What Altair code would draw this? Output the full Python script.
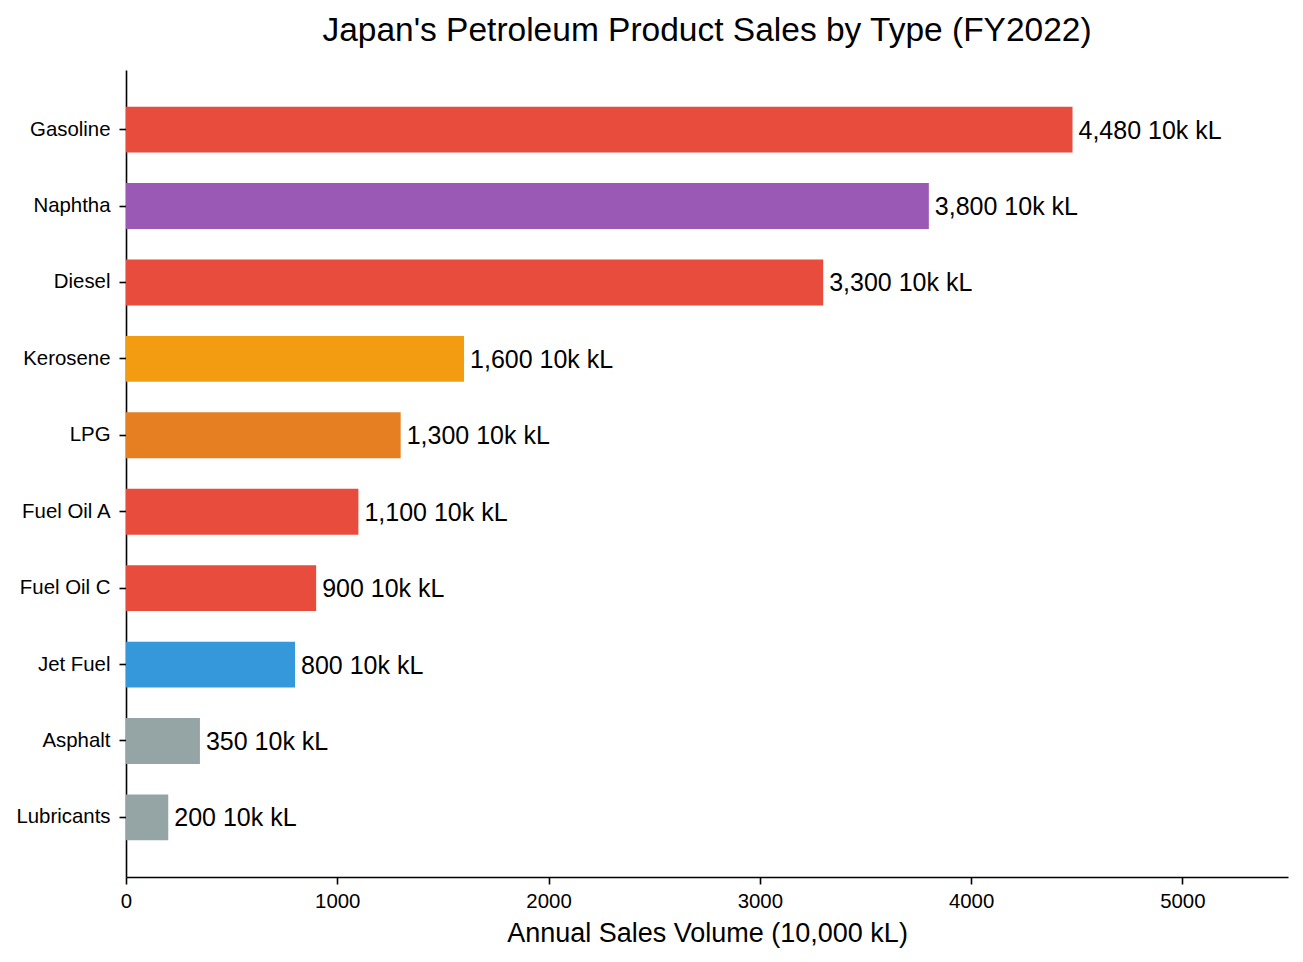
import pandas as pd
import altair as alt

# FY2022 petroleum product sales, in 10,000 kL
products = ["Gasoline", "Naphtha", "Diesel", "Kerosene", "LPG",
            "Fuel Oil A", "Fuel Oil C", "Jet Fuel", "Asphalt", "Lubricants"]
volumes = [4480, 3800, 3300, 1600, 1300, 1100, 900, 800, 350, 200]
bar_colors = ["#e74c3c", "#9b59b6", "#e74c3c", "#f39c12", "#e67e22",
              "#e74c3c", "#e74c3c", "#3498db", "#95a5a6", "#95a5a6"]
x_ticks = [0, 1000, 2000, 3000, 4000, 5000]

font = "Liberation Sans"

source = pd.DataFrame({"product": products, "volume": volumes, "color": bar_colors})

y = alt.Y(
    "product:N",
    sort=products,
    title=None,
    scale=alt.Scale(paddingInner=0.4, paddingOuter=0.48),
    axis=alt.Axis(
        labelFontSize=20.4, labelColor="black", labelPadding=9,
        tickSize=7, tickWidth=1.6, tickColor="black",
        domainColor="black", domainWidth=1.6,
    ),
)

x = alt.X(
    "volume:Q",
    title="Annual Sales Volume (10,000 kL)",
    scale=alt.Scale(domain=[0, 5500], nice=False),
    axis=alt.Axis(
        values=x_ticks, format="d", grid=False, labelFlush=False,
        labelFontSize=20.4, labelColor="black", labelPadding=7,
        tickSize=7, tickWidth=1.6, tickColor="black",
        domainColor="black", domainWidth=1.6,
        titleFontSize=27, titleFontWeight="normal", titleColor="black",
        titlePadding=9,
    ),
)

bars = (
    alt.Chart(source)
    .mark_bar()
    .encode(x=x, y=y, color=alt.Color("color:N", scale=None))
)

labels = (
    alt.Chart(source)
    .transform_calculate(label="format(datum.volume, ',') + ' 10k kL'")
    .mark_text(align="left", baseline="middle", dx=6, dy=1, fontSize=25, font=font, color="black")
    .encode(x="volume:Q", y=alt.Y("product:N", sort=products), text="label:N")
)

chart = (
    (bars + labels)
    .properties(
        width=1162,
        height=807,
        autosize=alt.AutoSizeParams(type="none"),
        padding={"left": 118, "top": 62, "right": 7, "bottom": 77},
        title=alt.Title(
            "Japan's Petroleum Product Sales by Type (FY2022)",
            fontSize=33.5, fontWeight="normal", font=font, color="black",
            anchor="middle", offset=22,
        ),
    )
    .configure_axis(labelFont=font, titleFont=font)
    .configure_view(stroke=None)
)

chart.save("out.html", embed_options={"renderer": "svg", "actions": False})
